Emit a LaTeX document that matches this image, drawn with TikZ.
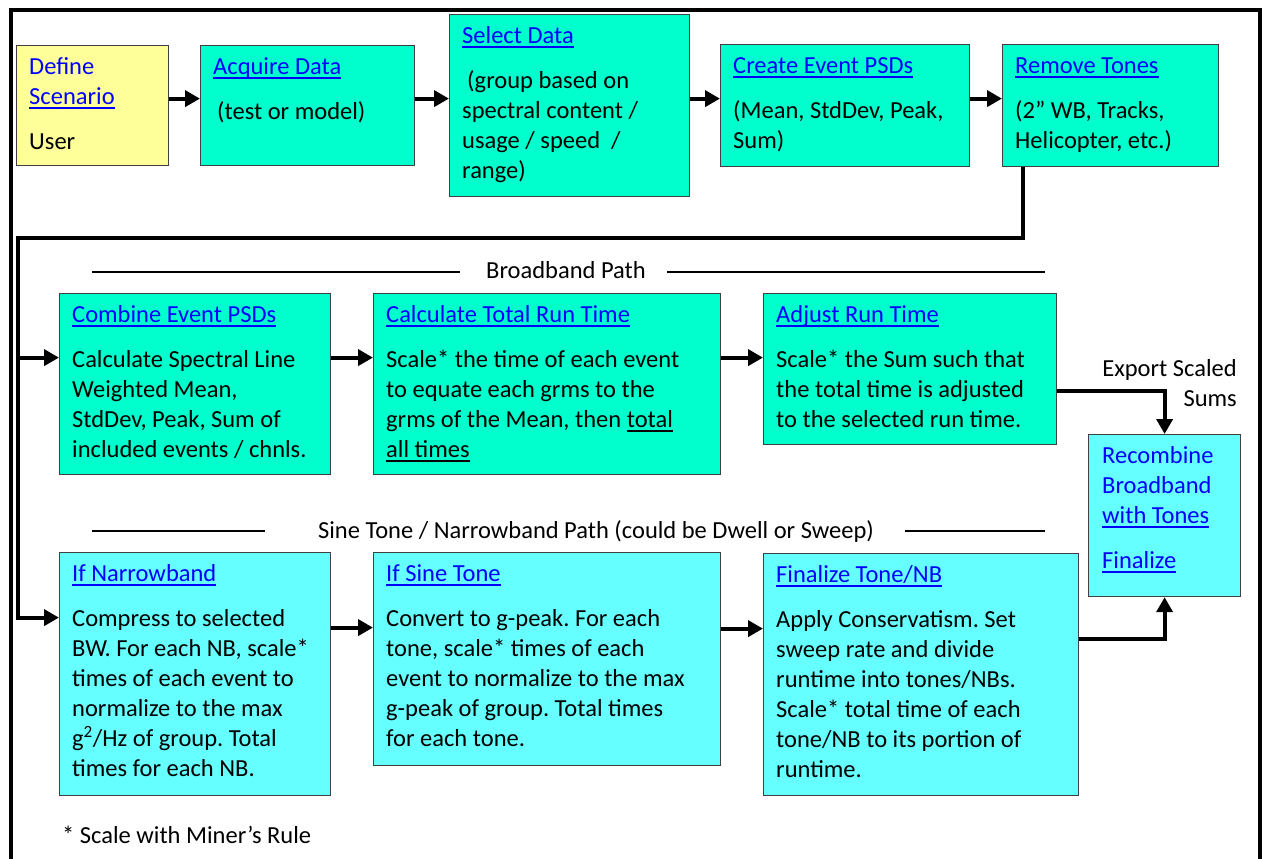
\documentclass[tikz,border=0pt]{standalone}
\usepackage{fontspec}
\setmainfont{Carlito}
\usetikzlibrary{arrows.meta,positioning,calc}
\definecolor{aqua}{HTML}{00FFCC}
\definecolor{skyc}{HTML}{66FFFF}
\definecolor{usery}{HTML}{FFFF99}
\definecolor{linkblue}{HTML}{0000FF}
\frenchspacing
\newcommand{\bodyfont}{\fontsize{24.5}{30}\selectfont}
\newsavebox{\undlbox}
\newcommand{\undl}[1]{\sbox{\undlbox}{#1}\rlap{\rule[-4.5pt]{\wd\undlbox}{1.5pt}}\usebox{\undlbox}}
\newcommand{\hlink}[1]{\textcolor{linkblue}{\undl{#1}}}
\tikzset{
  stage/.style={draw=black!75, line width=1.2pt, anchor=north west, inner sep=0pt},
  bbox/.style={stage, fill=aqua},
  nbox/.style={stage, fill=skyc},
  ubox/.style={stage, fill=usery},
  btxt/.style={anchor=north west, inner sep=0pt, align=left, font=\bodyfont},
  flow/.style={-{Triangle[length=15pt, width=16pt]}, line width=4pt},
  rule/.style={line width=1.3pt},
  sect/.style={anchor=base, inner sep=0pt, font=\bodyfont},
}

\begin{document}
\begin{tikzpicture}[x=1pt, y=-1pt]
  \useasboundingbox (0,0) rectangle (1262,859);
  \draw[line width=4pt] (11,862) -- (11,10) -- (1260,10) -- (1260,862);

  % top row
  \node[ubox, minimum width=152pt, minimum height=120pt] (def) at (16,45) {};
  \node[btxt] (defT) at ([xshift=13pt,yshift=-8pt]def.north west)
    {\strut\textcolor{linkblue}{Define}\\\hlink{Scenario}\\[15pt]User};
  \node[bbox, minimum width=214pt, minimum height=120pt] (acq) at (200,45) {};
  \node[btxt] (acqT) at ([xshift=13pt,yshift=-8pt]acq.north west)
    {\strut\hlink{Acquire Data}\\[15pt]\hspace*{4pt}(test or model)};
  \node[bbox, minimum width=240pt, minimum height=182pt] (sel) at (449,14) {};
  \node[btxt] (selT) at ([xshift=13pt,yshift=-8pt]sel.north west)
    {\strut\hlink{Select Data}\\[15pt]\hspace*{5pt}(group based on\\spectral content /\\usage / speed \ /\\range)};
  \node[bbox, minimum width=249pt, minimum height=122pt] (evt) at (720,44) {};
  \node[btxt] (evtT) at ([xshift=13pt,yshift=-8pt]evt.north west)
    {\strut\hlink{Create Event PSDs}\\[15pt](Mean, StdDev, Peak,\\Sum)};
  \node[bbox, minimum width=216pt, minimum height=122pt] (rem) at (1002,44) {};
  \node[btxt] (remT) at ([xshift=13pt,yshift=-8pt]rem.north west)
    {\strut\hlink{Remove Tones}\\[15pt](2” WB, Tracks,\\Helicopter, etc.)};

  \draw[flow] ([yshift=7pt]def.east) -- ([yshift=7pt]def.east -| acq.west);
  \draw[flow] ([yshift=7pt]acq.east) -- ([yshift=7pt]acq.east -| sel.west);
  \draw[flow] ([yshift=7pt]sel.east) -- ([yshift=7pt]sel.east -| evt.west);
  \draw[flow] ([yshift=7pt]evt.east) -- ([yshift=7pt]evt.east -| rem.west);

  % broadband path
  \node[sect] (bbL) at (566,278) {Broadband Path};
  \draw[rule] (92,272) -- (460,272);
  \draw[rule] (667,272) -- (1045,272);
  \node[bbox, minimum width=271pt, minimum height=181pt] (comb) at (59,293) {};
  \node[btxt] (combT) at ([xshift=13pt,yshift=-8pt]comb.north west)
    {\strut\hlink{Combine Event PSDs}\\[15pt]Calculate Spectral Line\\Weighted Mean,\\StdDev, Peak, Sum of\\included events / chnls.};
  \node[bbox, minimum width=347pt, minimum height=181pt] (calc) at (373,293) {};
  \node[btxt] (calcT) at ([xshift=13pt,yshift=-8pt]calc.north west)
    {\strut\hlink{Calculate Total Run Time}\\[15pt]Scale* the time of each event\\to equate each grms to the\\grms of the Mean, then \undl{total}\\\undl{all times}};
  \node[bbox, minimum width=293pt, minimum height=151pt] (adj) at (763,293) {};
  \node[btxt] (adjT) at ([xshift=13pt,yshift=-8pt]adj.north west)
    {\strut\hlink{Adjust Run Time}\\[15pt]Scale* the Sum such that\\the total time is adjusted\\to the selected run time.};

  \draw[flow] ([yshift=26.5pt]comb.east) -- ([yshift=26.5pt]comb.east -| calc.west);
  \draw[flow] ([yshift=26.5pt]calc.east) -- ([yshift=26.5pt]calc.east -| adj.west);

  % recombine
  \node[nbox, minimum width=152pt, minimum height=162pt] (rec) at (1088,434) {};
  \node[btxt] (recT) at ([xshift=14pt,yshift=-8pt]rec.north west)
    {\strut\textcolor{linkblue}{Recombine}\\\textcolor{linkblue}{Broadband}\\\hlink{with Tones}\\[15pt]\hlink{Finalize}};
  \node[btxt, anchor=north east, align=right] (expT) at (1237,355) {\strut Export Scaled\\Sums};
  \draw[flow] ([yshift=-21.5pt]adj.east) -| (rec.north);

  % sine tone / narrowband path
  \node[sect] (nbL) at (596,538) {Sine Tone / Narrowband Path (could be Dwell or Sweep)};
  \draw[rule] (92,531) -- (265,531);
  \draw[rule] (905,531) -- (1045,531);
  \node[nbox, minimum width=271pt, minimum height=243pt] (nb) at (59,552) {};
  \node[btxt] (nbT) at ([xshift=13pt,yshift=-8pt]nb.north west)
    {\strut\hlink{If Narrowband}\\[15pt]Compress to selected\\BW. For each NB, scale*\\times of each event to\\normalize to the max\\g\textsuperscript{2}/Hz of group. Total\\times for each NB.};
  \node[nbox, minimum width=347pt, minimum height=213pt] (sine) at (373,552) {};
  \node[btxt] (sineT) at ([xshift=13pt,yshift=-8pt]sine.north west)
    {\strut\hlink{If Sine Tone}\\[15pt]Convert to g-peak. For each\\tone, scale* times of each\\event to normalize to the max\\g-peak of group. Total times\\for each tone.};
  \node[nbox, minimum width=315pt, minimum height=242pt] (fin) at (763,553) {};
  \node[btxt] (finT) at ([xshift=13pt,yshift=-8pt]fin.north west)
    {\strut\hlink{Finalize Tone/NB}\\[15pt]Apply Conservatism. Set\\sweep rate and divide\\runtime into tones/NBs.\\Scale* total time of each\\tone/NB to its portion of\\runtime.};

  \draw[flow] ([yshift=46.5pt]nb.east) -- ([yshift=46.5pt]nb.east -| sine.west);
  \draw[flow] ([yshift=30.5pt]sine.east) -- ([yshift=30.5pt]sine.east -| fin.west);
  \draw[flow] ([yshift=36pt]fin.east) -| (rec.south);

  % return path
  \coordinate (retR) at (1023,238);
  \coordinate (retL) at (18,238);
  \coordinate (combIn) at ([yshift=26.5pt]comb.west);
  \coordinate (nbIn) at ([yshift=56.5pt]nb.west);
  \draw[flow] ([xshift=21pt]rem.south west) -- (retR) -- (retL) |- (nbIn);
  \draw[flow] (retL |- combIn) -- (combIn);

  \node[btxt, anchor=base west] (note) at (62,843) {* Scale with Miner’s Rule};
\end{tikzpicture}
\end{document}
